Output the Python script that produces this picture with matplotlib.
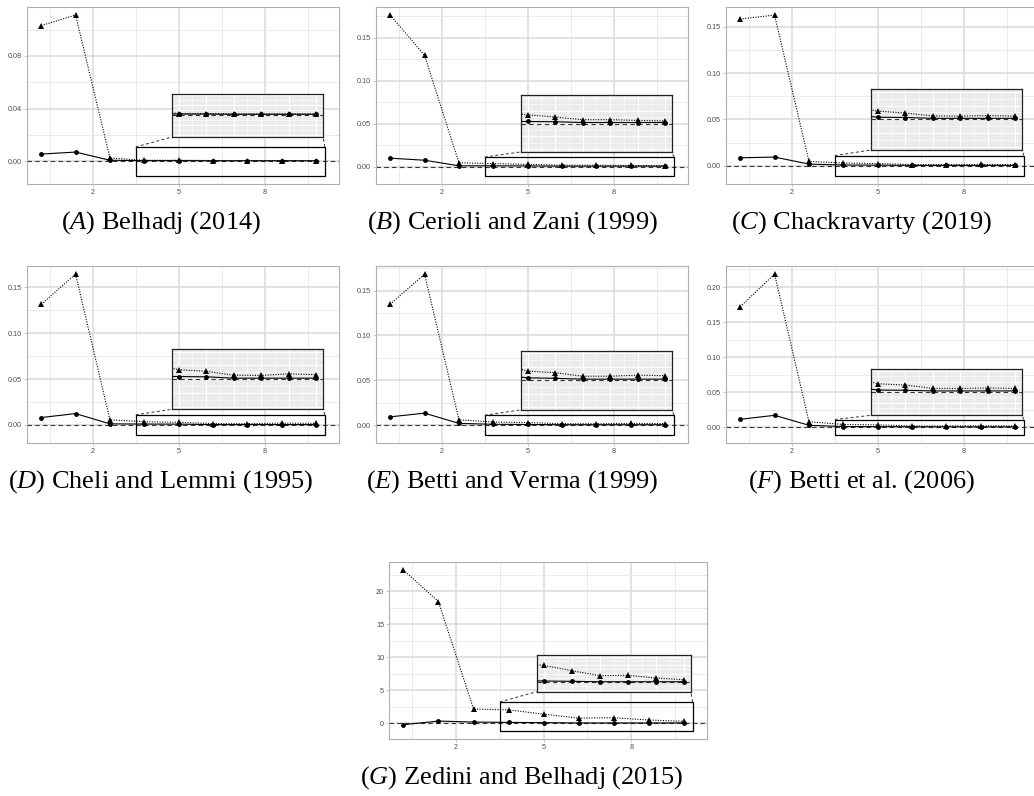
import matplotlib.pyplot as plt
import matplotlib.patches as mpatches
import numpy as np

plt.rcParams['font.family'] = 'Liberation Sans'
plt.rcParams['mathtext.fontset'] = 'custom'
plt.rcParams['mathtext.it'] = 'Liberation Serif:italic'
plt.rcParams['mathtext.rm'] = 'Liberation Serif'

# lag index on the x axis
lags = [1, 2, 3, 4, 5, 6, 7, 8, 9]

letters = ["A", "B", "C", "D", "E", "F", "G"]
names = ["Belhadj (2014)", "Cerioli and Zani (1999)", "Chackravarty (2019)",
         "Cheli and Lemmi (1995)", "Betti and Verma (1999)", "Betti et al. (2006)",
         "Zedini and Belhadj (2015)"]

# circles, solid line
circ_a = [0.0056, 0.0071, 0.0009, 0.0006, 0.0006, 0.0005, 0.0005, 0.0005, 0.0005]
circ_b = [0.0097, 0.0073, 0.0008, 0.0008, 0.0007, 0.0004, 0.0004, 0.0004, 0.0004]
circ_c = [0.0086, 0.0094, 0.0018, 0.0008, 0.0007, 0.0004, 0.0004, 0.0004, 0.0004]
circ_d = [0.0080, 0.0123, 0.0011, 0.0009, 0.0008, 0.0003, 0.0003, 0.0003, 0.0003]
circ_e = [0.0092, 0.0133, 0.0019, 0.0009, 0.0007, 0.0004, 0.0004, 0.0004, 0.0004]
circ_f = [0.0113, 0.0170, 0.0028, 0.0010, 0.0009, 0.0006, 0.0006, 0.0006, 0.0006]
circ_g = [-0.25, 0.30, 0.15, 0.10, 0.06, 0.01, 0.01, 0.01, 0.01]

# triangles, dotted line
tri_a = [0.103, 0.111, 0.0026, 0.0009, 0.0009, 0.0007, 0.0007, 0.0007, 0.0007]
tri_b = [0.1763, 0.1294, 0.0043, 0.0034, 0.0025, 0.0015, 0.0015, 0.0012, 0.0010]
tri_c = [0.1584, 0.1627, 0.0047, 0.0030, 0.0023, 0.0013, 0.0012, 0.0014, 0.0012]
tri_d = [0.1313, 0.1645, 0.0055, 0.0034, 0.0028, 0.0014, 0.0013, 0.0019, 0.0016]
tri_e = [0.1347, 0.1684, 0.0059, 0.0034, 0.0028, 0.0015, 0.0015, 0.0019, 0.0017]
tri_f = [0.1718, 0.2185, 0.0079, 0.0040, 0.0034, 0.0018, 0.0018, 0.0020, 0.0018]
tri_g = [23.2, 18.4, 2.12, 2.0, 1.35, 0.75, 0.8, 0.46, 0.26]

circles = [circ_a, circ_b, circ_c, circ_d, circ_e, circ_f, circ_g]
triangles = [tri_a, tri_b, tri_c, tri_d, tri_e, tri_f, tri_g]

y_ticks = [[0, 0.04, 0.08],
           [0, 0.05, 0.10, 0.15],
           [0, 0.05, 0.10, 0.15],
           [0, 0.05, 0.10, 0.15],
           [0, 0.05, 0.10, 0.15],
           [0, 0.05, 0.10, 0.15, 0.20],
           [0, 5, 10, 15, 20]]
y_fmt = ["{:.2f}"] * 6 + ["{:.0f}"]

# magnify region (from) and inset placement (to), before 5% expansion
from_y = [(-0.01, 0.01)] * 6 + [(-1, 3)]
to_y = [(0.02, 0.05)] + [(0.02, 0.08)] * 5 + [(5, 10)]
from_x = (4, 9)
to_x = (5, 9)

# layout in pixels: left, top, width, height
W, H = 1034, 796
boxes = [(27, 7, 312, 177), (376, 7, 312, 177), (726, 7, 312, 177),
         (27, 266, 312, 177), (376, 266, 312, 177), (726, 266, 312, 177),
         (389, 562, 318, 177)]
cap_pos = [(161, 223), (512, 223), (862, 223),
           (161, 482), (512, 482), (862, 482), (522, 778)]


def expand(lo, hi, f=0.05):
    d = (hi - lo) * f
    return lo - d, hi + d


def draw_series(a, circ, tri):
    a.axhline(0, color='#333333', lw=0.8, ls=(0, (4, 3)), zorder=2.5)
    a.plot(lags, circ, color='black', lw=0.8, marker='o', ms=3.5, mew=0, zorder=3)
    a.plot(lags, tri, color='black', lw=0.8, ls=(0, (1, 1.3)), marker='^',
           ms=4.1, mew=0, zorder=3)


fig = plt.figure(figsize=(W / 100, H / 100), dpi=100)

for i in range(7):
    l, t, w, h = boxes[i]
    ax = fig.add_axes([l / W, 1 - (t + h) / H, w / W, h / H])
    circ, tri = circles[i], triangles[i]

    fx0, fx1 = expand(*from_x)
    fy0, fy1 = expand(*from_y[i])
    tx0, tx1 = expand(*to_x)
    ty0, ty1 = expand(*to_y[i])

    xlo, xhi = expand(min(lags[0], fx0), max(lags[-1], fx1))
    ylo, yhi = expand(min(min(circ), min(tri), fy0), max(max(circ), max(tri), ty1))
    ax.set_xlim(xlo, xhi)
    ax.set_ylim(ylo, yhi)

    draw_series(ax, circ, tri)

    # grid and axes, theme_light look
    ax.set_xticks([2.5, 5, 7.5])
    ax.set_xticklabels(['2', '5', '8'])
    ax.set_xticks([1.25, 3.75, 6.25, 8.75], minor=True)
    yt = y_ticks[i]
    step = yt[1] - yt[0]
    ax.set_yticks(yt)
    ax.set_yticklabels([y_fmt[i].format(v) for v in yt])
    ax.set_yticks(np.arange(yt[0] - step / 2, yhi, step), minor=True)
    ax.set_ylim(ylo, yhi)
    ax.grid(which='major', color='#DADADA', lw=1.1)
    ax.grid(which='minor', color='#E8E8E8', lw=0.6)
    ax.set_axisbelow(True)
    ax.tick_params(which='major', length=2, width=0.5, color='#B3B3B3',
                   labelsize=5.2, labelcolor='#4D4D4D', pad=1.5)
    ax.tick_params(which='minor', length=0)
    for s in ax.spines.values():
        s.set_color('#AFAFAF')
        s.set_linewidth(0.8)

    # magnified region
    ax.add_patch(mpatches.Rectangle((fx0, fy0), fx1 - fx0, fy1 - fy0, fill=False,
                                    ec='black', lw=0.9, zorder=4))
    ax.plot([fx0, tx0], [fy1, ty0], color='#333333', lw=0.7, ls=(0, (3, 2.5)), zorder=4)
    ax.plot([fx1, tx1], [fy1, ty0], color='#333333', lw=0.7, ls=(0, (3, 2.5)), zorder=4)

    ins = ax.inset_axes([tx0, ty0, tx1 - tx0, ty1 - ty0], transform=ax.transData)
    ins.set_facecolor('#EBEBEB')
    draw_series(ins, circ, tri)
    ins.set_xlim(fx0, fx1)
    ins.set_ylim(fy0, fy1)
    ins.set_xticks([4, 5, 6, 7, 8, 9])
    ins.set_xticks([4.5, 5.5, 6.5, 7.5, 8.5], minor=True)
    ystep = 0.005 if i < 6 else 1
    ins.set_yticks(np.arange(-2 * ystep, fy1, ystep))
    ins.set_yticks(np.arange(-2.5 * ystep, fy1, ystep), minor=True)
    ins.set_ylim(fy0, fy1)
    ins.grid(which='major', color='white', lw=0.8)
    ins.grid(which='minor', color='white', lw=0.4)
    ins.set_axisbelow(True)
    ins.tick_params(which='both', length=0, labelbottom=False, labelleft=False)
    for s in ins.spines.values():
        s.set_color('#222222')
        s.set_linewidth(0.9)

    cx, cy = cap_pos[i]
    fig.text(cx / W, 1 - cy / H, f"(${letters[i]}$) {names[i]}", ha='center',
             va='center', fontsize=19, family='Liberation Serif')

fig.savefig('out.png', dpi=100)
